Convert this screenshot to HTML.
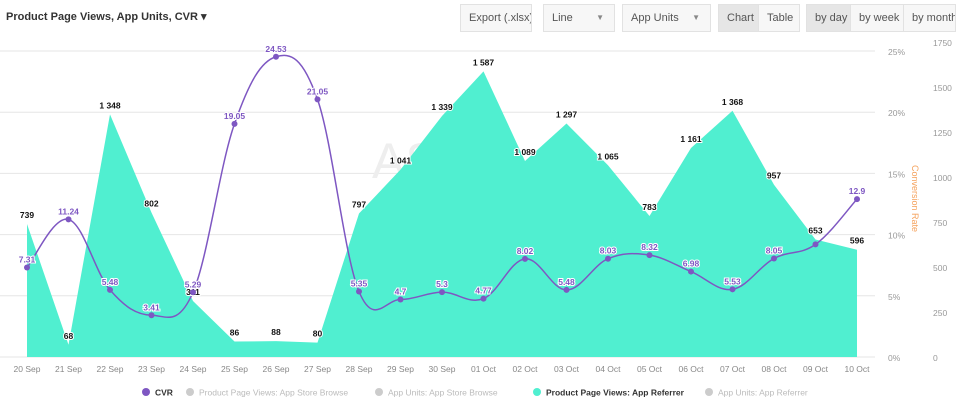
<!DOCTYPE html>
<html><head><meta charset="utf-8"><style>
body{margin:0;width:960px;height:403px;overflow:hidden;background:#fff;font-family:"Liberation Sans",sans-serif;}
.btn{position:absolute;top:4px;height:28px;border:1px solid #e2e2e2;background:#f7f7f7;font-size:11px;color:#555;line-height:26px;box-sizing:border-box;padding-left:8px;white-space:nowrap;overflow:hidden}
.act{background:#e6e6e6}
</style></head><body>
<div style="position:absolute;left:6px;top:10px;font-size:11px;font-weight:bold;color:#333;white-space:nowrap">Product Page Views, App Units, CVR ▾</div>
<div class="btn" style="left:460px;width:72px">Export (.xlsx)</div>
<div class="btn" style="left:543px;width:72px">Line<span style="position:absolute;right:10px;font-size:8px;color:#888">▼</span></div>
<div class="btn" style="left:622px;width:89px">App Units<span style="position:absolute;right:10px;font-size:8px;color:#888">▼</span></div>
<div class="btn act" style="left:718px;width:41px">Chart</div>
<div class="btn" style="left:758px;width:42px">Table</div>
<div class="btn act" style="left:806px;width:45px">by day</div>
<div class="btn" style="left:850px;width:54px">by week</div>
<div class="btn" style="left:903px;width:53px">by month</div>
<svg id="c" width="960" height="403" style="position:absolute;left:0;top:0;pointer-events:none"></svg>
<script>
const categories=["20 Sep","21 Sep","22 Sep","23 Sep","24 Sep","25 Sep","26 Sep","27 Sep","28 Sep","29 Sep","30 Sep","01 Oct","02 Oct","03 Oct","04 Oct","05 Oct","06 Oct","07 Oct","08 Oct","09 Oct","10 Oct"];
const pageViews=[739,68,1348,802,311,86,88,80,797,1041,1339,1587,1089,1297,1065,783,1161,1368,957,653,596];
const cvr=[7.31,11.24,5.48,3.41,5.29,19.05,24.53,21.05,5.35,4.7,5.3,4.77,8.02,5.48,8.03,8.32,6.98,5.53,8.05,9.2,12.9];
const cvrLabels=["7.31","11.24","5.48","3.41","5.29","19.05","24.53","21.05","5.35","4.7","5.3","4.77","8.02","5.48","8.03","8.32","6.98","5.53","8.05","","12.9"];
const pctTicks=[0,5,10,15,20,25];
const unitTicks=[0,250,500,750,1000,1250,1500,1750];
const svg=document.getElementById('c');const NS='http://www.w3.org/2000/svg';
function mk(t,a,p){const e=document.createElementNS(NS,t);for(const k in a)e.setAttribute(k,a[k]);(p||svg).appendChild(e);return e;}
const x=i=>27+i*(830/(categories.length-1));
const yP=v=>357-v*12.24;
const yU=v=>357-v*(315/1750);
pctTicks.forEach(t=>{
 const l=mk('line',{x1:0,x2:875,y1:yP(t),y2:yP(t),stroke:'#e6e6e6'});
 
 const tx=mk('text',{x:888,y:yP(t)+4,'font-size':8.5,fill:'#999'});tx.textContent=t+'%';
 
});
unitTicks.forEach(t=>{
 const tx=mk('text',{x:933,y:yU(t)+4,'font-size':8.5,fill:'#999'});tx.textContent=t;
 
});
const at=mk('text',{x:0,y:0,'font-size':9,fill:'#f5a25d',transform:'translate(912,165) rotate(90)'});at.textContent='Conversion Rate';

const wm=mk('text',{x:372,y:178,'font-size':50,fill:'#eee'});wm.textContent='AS';

let d='M'+x(0)+','+yU(0);pageViews.forEach((v,i)=>d+=' L'+x(i)+','+yU(v));d+=' L'+x(pageViews.length-1)+','+yU(0)+'Z';
const ar=mk('path',{d:d,fill:'#50efd0'});

const pts=cvr.map((v,i)=>[x(i),yP(v)]);
let cd='M'+pts[0][0]+','+pts[0][1];
for(let i=0;i<pts.length-1;i++){const p0=pts[Math.max(0,i-1)],p1=pts[i],p2=pts[i+1],p3=pts[Math.min(pts.length-1,i+2)];const k=0.18;
 cd+=' C'+(p1[0]+(p2[0]-p0[0])*k)+','+(p1[1]+(p2[1]-p0[1])*k)+' '+(p2[0]-(p3[0]-p1[0])*k)+','+(p2[1]-(p3[1]-p1[1])*k)+' '+p2[0]+','+p2[1];}
const ln=mk('path',{d:cd,fill:'none',stroke:'#7e57c2','stroke-width':1.5});

pageViews.forEach((v,i)=>{
 const t=mk('text',{x:x(i),y:yU(v)-6,'font-size':8.5,'font-weight':'bold','text-anchor':'middle',fill:'#111',stroke:'#fff','stroke-width':2,'paint-order':'stroke'});
 t.textContent=v>=1000?String(v).replace(/^(\d)/,'$1 '):v;
 
});
cvr.forEach((v,i)=>{
 const c=mk('circle',{cx:x(i),cy:yP(v),r:3,fill:'#7e57c2'});
 
 if(cvrLabels[i]){const t=mk('text',{x:x(i),y:yP(v)-5,'font-size':8.5,'font-weight':'bold','text-anchor':'middle',fill:'#7e57c2',stroke:'#fff','stroke-width':2,'paint-order':'stroke'});
 t.textContent=cvrLabels[i];}
});
categories.forEach((c,i)=>{
 const t=mk('text',{x:x(i),y:372,'font-size':8.5,'text-anchor':'middle',fill:'#888'});t.textContent=c;
 
});
const leg=[["CVR",'#7e57c2','#333',146],["Product Page Views: App Store Browse",'#ccc','#bbb',190],["App Units: App Store Browse",'#ccc','#bbb',379],["Product Page Views: App Referrer",'#50efd0','#333',537],["App Units: App Referrer",'#ccc','#bbb',709]];
leg.forEach(l=>{
 const g=mk('g',{});
 mk('circle',{cx:l[3],cy:392,r:4,fill:l[1]},g);
 const t=mk('text',{x:l[3]+9,y:395.5,'font-size':8.5,fill:l[2],'font-weight':l[2]=='#333'?'bold':'normal'},g);t.textContent=l[0];
});
</script>
</body></html>
